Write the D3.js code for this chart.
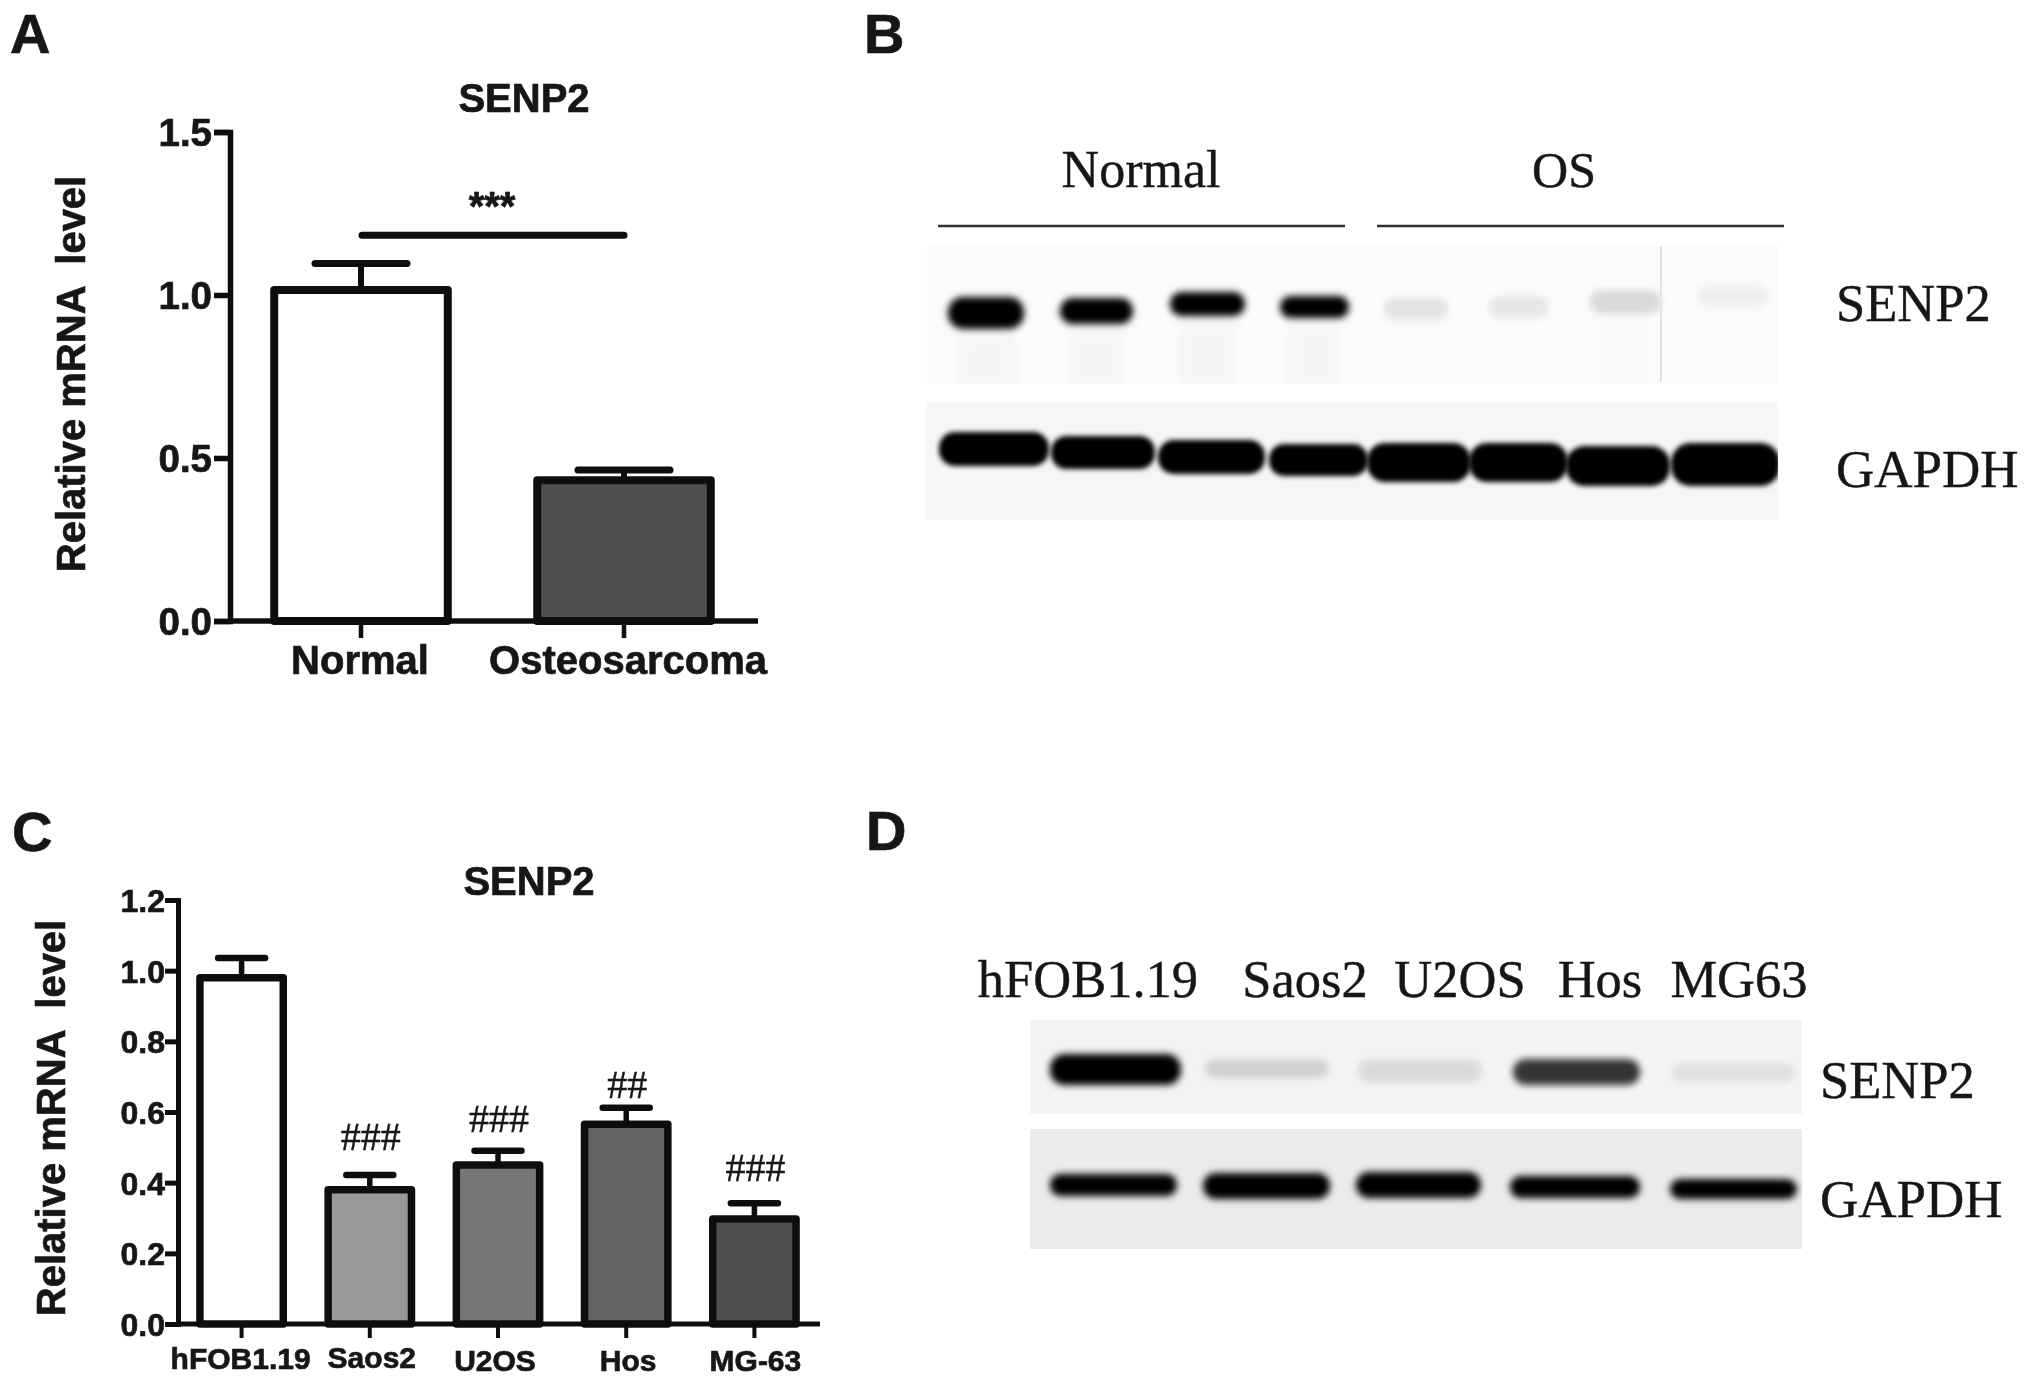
<!DOCTYPE html>
<html><head><meta charset="utf-8">
<script src="https://cdnjs.cloudflare.com/ajax/libs/d3/7.8.5/d3.min.js"></script>
<style>
html,body{margin:0;padding:0;background:#fff}
svg{display:block}
text{white-space:pre;fill:#161616}
.sans{font-family:"Liberation Sans",Arial,sans-serif;font-weight:700;stroke:#161616;stroke-width:0.7px}
.serif{font-family:"Liberation Serif","Times New Roman",serif;font-weight:400;stroke:#161616;stroke-width:0.4px}
</style></head><body>
<svg id="c" width="2031" height="1385"></svg>
<script>
// ---- Data ----
const categoriesA = ["Normal", "Osteosarcoma"];
const valuesA = [1.015, 0.432];
const errorsA = [0.082, 0.031];
const fillsA = ["#ffffff", "#505050"];
const ticksA = [0, 0.5, 1.0, 1.5];

const categoriesC = ["hFOB1.19", "Saos2", "U2OS", "Hos", "MG-63"];
const valuesC = [0.98, 0.38, 0.45, 0.565, 0.297];
const errorsC = [0.056, 0.042, 0.04, 0.047, 0.045];
const fillsC = ["#ffffff", "#999999", "#777777", "#636363", "#505050"];
const marksC = ["", "###", "###", "##", "###"];
const ticksC = [0, 0.2, 0.4, 0.6, 0.8, 1.0, 1.2];

const lanesB = ["N1", "N2", "N3", "N4", "OS1", "OS2", "OS3", "OS4"];
const senp2B = [1, 1, 1, 1, 0.09, 0.08, 0.13, 0.05];
const gapdhB = [1, 1, 1, 1, 1, 1, 1, 1];
const lanesD = ["hFOB1.19", "Saos2", "U2OS", "Hos", "MG63"];
const senp2D = [1, 0.14, 0.1, 0.78, 0.08];
const gapdhD = [1, 1, 1, 1, 1];

// ---- Layout (not data) ----
const markLift = [0, 25, 19, 10, 22];
const bandsB1 = [[946,1026,295,331],[1058,1135,296,326],[1168,1247,290,318],[1278,1351,294,320],
                 [1382,1450,296,322],[1487,1551,294,320],[1588,1663,288,316],[1696,1771,284,308]];
const bandsB2 = [[937,1051,430,468],[1049,1157,434,471],[1156,1267,438,476],[1267,1370,442,478],
                 [1365,1473,441,484],[1467,1570,441,484],[1564,1672,444,488],[1669,1782,441,488]];
const bandsD1 = [[1048,1183,1052,1087],[1203,1331,1057,1080],[1356,1484,1058,1084],[1511,1642,1057,1087],[1670,1797,1062,1084]];
const bandsD2 = [[1048,1179,1172,1198],[1201,1332,1171,1201],[1354,1483,1170,1200],[1508,1642,1174,1200],[1668,1799,1177,1201]];

const svg = d3.select("#c");
const defs = svg.append("defs");
const blur = (id, s) => defs.append("filter").attr("id", id)
  .attr("x", "-30%").attr("y", "-80%").attr("width", "160%").attr("height", "260%")
  .append("feGaussianBlur").attr("stdDeviation", s);
blur("soft", 0.7); blur("band", 3.6); blur("bandHard", 2.4); blur("smear", 6);

const root = svg.append("g");
const txt = (g, cls, s, x, y, size, anchor) => g.append("text").attr("class", cls).text(s)
  .attr("x", x).attr("y", y).attr("font-size", size).attr("text-anchor", anchor || "middle");

function barPanel(o) {
  const g = root.append("g").attr("filter", "url(#soft)");
  const y = d3.scaleLinear().domain(o.domain).range([o.y0, o.y1]);
  const x = d3.scaleBand().domain(o.cats).range(o.xr).padding(0);
  const bw = x.bandwidth() * o.barFrac;
  const cx = d => x(d) + x.bandwidth() / 2;

  const bars = g.append("g").selectAll("g").data(o.cats).join("g");
  bars.append("rect")
    .attr("x", d => cx(d) - bw / 2).attr("width", bw)
    .attr("y", (d, i) => y(o.vals[i])).attr("height", (d, i) => o.y0 - y(o.vals[i]))
    .attr("fill", (d, i) => o.fills[i]).attr("stroke", "#111").attr("stroke-width", o.sw)
    .attr("stroke-linejoin", "round");
  bars.append("line").attr("x1", cx).attr("x2", cx)
    .attr("y1", (d, i) => y(o.vals[i])).attr("y2", (d, i) => y(o.vals[i] + o.errs[i]))
    .attr("stroke", "#111").attr("stroke-width", o.sw - 2);
  bars.append("line").attr("x1", d => cx(d) - o.cap / 2).attr("x2", d => cx(d) + o.cap / 2)
    .attr("y1", (d, i) => y(o.vals[i] + o.errs[i])).attr("y2", (d, i) => y(o.vals[i] + o.errs[i]))
    .attr("stroke", "#111").attr("stroke-width", o.sw - 1).attr("stroke-linecap", "round");

  const ay = g.append("g").attr("transform", `translate(${o.xAxis},0)`)
    .call(d3.axisLeft(y).tickValues(o.ticks).tickFormat(d3.format(".1f")).tickSize(o.tickY).tickPadding(o.padY));
  ay.selectAll("path,line").attr("stroke", "#111").attr("stroke-width", o.axisW);
  ay.selectAll("text").attr("class", "sans").attr("font-size", o.tickFont).attr("dy", "0.36em");

  const ax = g.append("g").attr("transform", `translate(0,${o.y0})`)
    .call(d3.axisBottom(x).tickSizeInner(o.tickX).tickSizeOuter(0).tickPadding(0));
  ax.select(".domain").remove();
  ax.selectAll("line").attr("stroke", "#111").attr("stroke-width", o.axisW - 1);
  ax.selectAll("text").attr("class", "sans").attr("font-size", o.xFont).attr("dy", 0)
    .attr("y", (d, i) => o.xBase[i] - o.y0).attr("x", (d, i) => o.xNudge[i]);
  g.append("line").attr("x1", o.xAxis).attr("x2", o.xEnd).attr("y1", o.y0).attr("y2", o.y0)
    .attr("stroke", "#111").attr("stroke-width", o.axisW);

  txt(g, "sans", "SENP2", o.titleX, o.titleY, 40);
  g.append("text").attr("class", "sans").text("Relative mRNA  level")
    .attr("font-size", o.ylFont).attr("text-anchor", "middle")
    .attr("transform", `translate(${o.ylX},${o.ylY}) rotate(-90)`);
  return {g, x, y, cx};
}

// Panel A
const A = barPanel({cats: categoriesA, vals: valuesA, errs: errorsA, fills: fillsA, ticks: ticksA,
  domain: [0, 1.5], y0: 621, y1: 132, xr: [229.5, 755.5], barFrac: 0.66, sw: 8, cap: 92, axisW: 5.5,
  xAxis: 230, xEnd: 758, tickY: 16, padY: 2, tickX: 17, tickFont: 38.5, xFont: 40,
  xBase: [674, 674], xNudge: [-1, 4], titleX: 524, titleY: 112, ylFont: 40, ylX: 85, ylY: 374});
A.g.append("line").attr("x1", A.cx(categoriesA[0]) + 1).attr("x2", A.cx(categoriesA[1]))
  .attr("y1", A.y(1.183)).attr("y2", A.y(1.183))
  .attr("stroke", "#111").attr("stroke-width", 7).attr("stroke-linecap", "round");
txt(A.g, "sans", "***", 492, 220, 40);

// Panel C
const C = barPanel({cats: categoriesC, vals: valuesC, errs: errorsC, fills: fillsC, ticks: ticksC,
  domain: [0, 1.2], y0: 1324, y1: 900, xr: [177.5, 818.5], barFrac: 0.65, sw: 7.5, cap: 47, axisW: 5,
  xAxis: 178, xEnd: 820, tickY: 13, padY: 0, tickX: 14, tickFont: 32, xFont: 30,
  xBase: [1369, 1368, 1371, 1371, 1371], xNudge: [-1, 2, -3, 2, 1], titleX: 529, titleY: 895, ylFont: 40, ylX: 65, ylY: 1118});
C.g.selectAll(".mark").data(categoriesC).join("text").attr("class", "serif mark")
  .text((d, i) => marksC[i]).attr("font-size", 40).attr("text-anchor", "middle")
  .attr("x", d => C.cx(d) + 1)
  .attr("y", (d, i) => C.y(valuesC[i] + errorsC[i]) - markLift[i]);

// Blots
function blot(x0, x1, y0, y1, fill, lanes, intens, boxes, filt, smearOp) {
  const g = root.append("g");
  g.append("rect").attr("x", x0).attr("y", y0).attr("width", x1 - x0).attr("height", y1 - y0).attr("fill", fill);
  const clipId = "clip" + x0 + "_" + y0;
  defs.append("clipPath").attr("id", clipId).append("rect")
    .attr("x", x0).attr("y", y0).attr("width", x1 - x0).attr("height", y1 - y0);
  const inner = g.append("g").attr("clip-path", `url(#${clipId})`);
  if (smearOp) inner.append("g").selectAll("rect").data(lanes).join("rect")
    .attr("x", (d, i) => boxes[i][0] + 10).attr("width", (d, i) => boxes[i][1] - boxes[i][0] - 20)
    .attr("y", (d, i) => boxes[i][3]).attr("height", (d, i) => y1 - boxes[i][3] + 10)
    .attr("fill", "#000").attr("opacity", (d, i) => smearOp * intens[i]).attr("filter", "url(#smear)");
  inner.append("g").selectAll("rect").data(lanes).join("rect")
    .attr("x", (d, i) => boxes[i][0] + 2).attr("y", (d, i) => boxes[i][2] + 2)
    .attr("width", (d, i) => boxes[i][1] - boxes[i][0] - 4).attr("height", (d, i) => boxes[i][3] - boxes[i][2] - 4)
    .attr("rx", (d, i) => (boxes[i][3] - boxes[i][2]) / 2.4)
    .attr("fill", "#000").attr("opacity", (d, i) => intens[i]).attr("filter", `url(#${filt})`);
  return g;
}
const b1 = blot(927, 1778, 246, 384, "#fbfbfb", lanesB, senp2B, bandsB1, "band", 0.018);
b1.append("line").attr("x1", 1661).attr("x2", 1661).attr("y1", 246).attr("y2", 382).attr("stroke", "#e4e4e4").attr("stroke-width", 2);
blot(926, 1778, 402, 520, "#f6f6f6", lanesB, gapdhB, bandsB2, "bandHard", 0);
blot(1030, 1802, 1020, 1114, "#f3f3f3", lanesD, senp2D, bandsD1, "band", 0);
blot(1030, 1802, 1129, 1249, "#ebebeb", lanesD, gapdhD, bandsD2, "band", 0);

// Panel letters and blot text
const t = root.append("g").attr("filter", "url(#soft)");
[["A", 10, 53], ["B", 864, 53], ["C", 12, 851], ["D", 866, 850]].forEach(d => txt(t, "sans", d[0], d[1], d[2], 56, "start"));
txt(t, "serif", "Normal", 1141, 187, 52);
txt(t, "serif", "OS", 1564, 187, 50);
t.append("line").attr("x1", 938).attr("x2", 1345).attr("y1", 226).attr("y2", 226).attr("stroke", "#333").attr("stroke-width", 2.5);
t.append("line").attr("x1", 1377).attr("x2", 1784).attr("y1", 226).attr("y2", 226).attr("stroke", "#333").attr("stroke-width", 2.5);
txt(t, "serif", "SENP2", 1836, 321, 52.5, "start");
txt(t, "serif", "GAPDH", 1836, 487, 53, "start");
const labelCentresD = [1088, 1305, 1460, 1600, 1739];
lanesD.forEach((d, i) => txt(t, "serif", d, labelCentresD[i], 997, 52.5));
txt(t, "serif", "SENP2", 1820, 1098, 52.5, "start");
txt(t, "serif", "GAPDH", 1820, 1217, 53, "start");
</script>
</body></html>
